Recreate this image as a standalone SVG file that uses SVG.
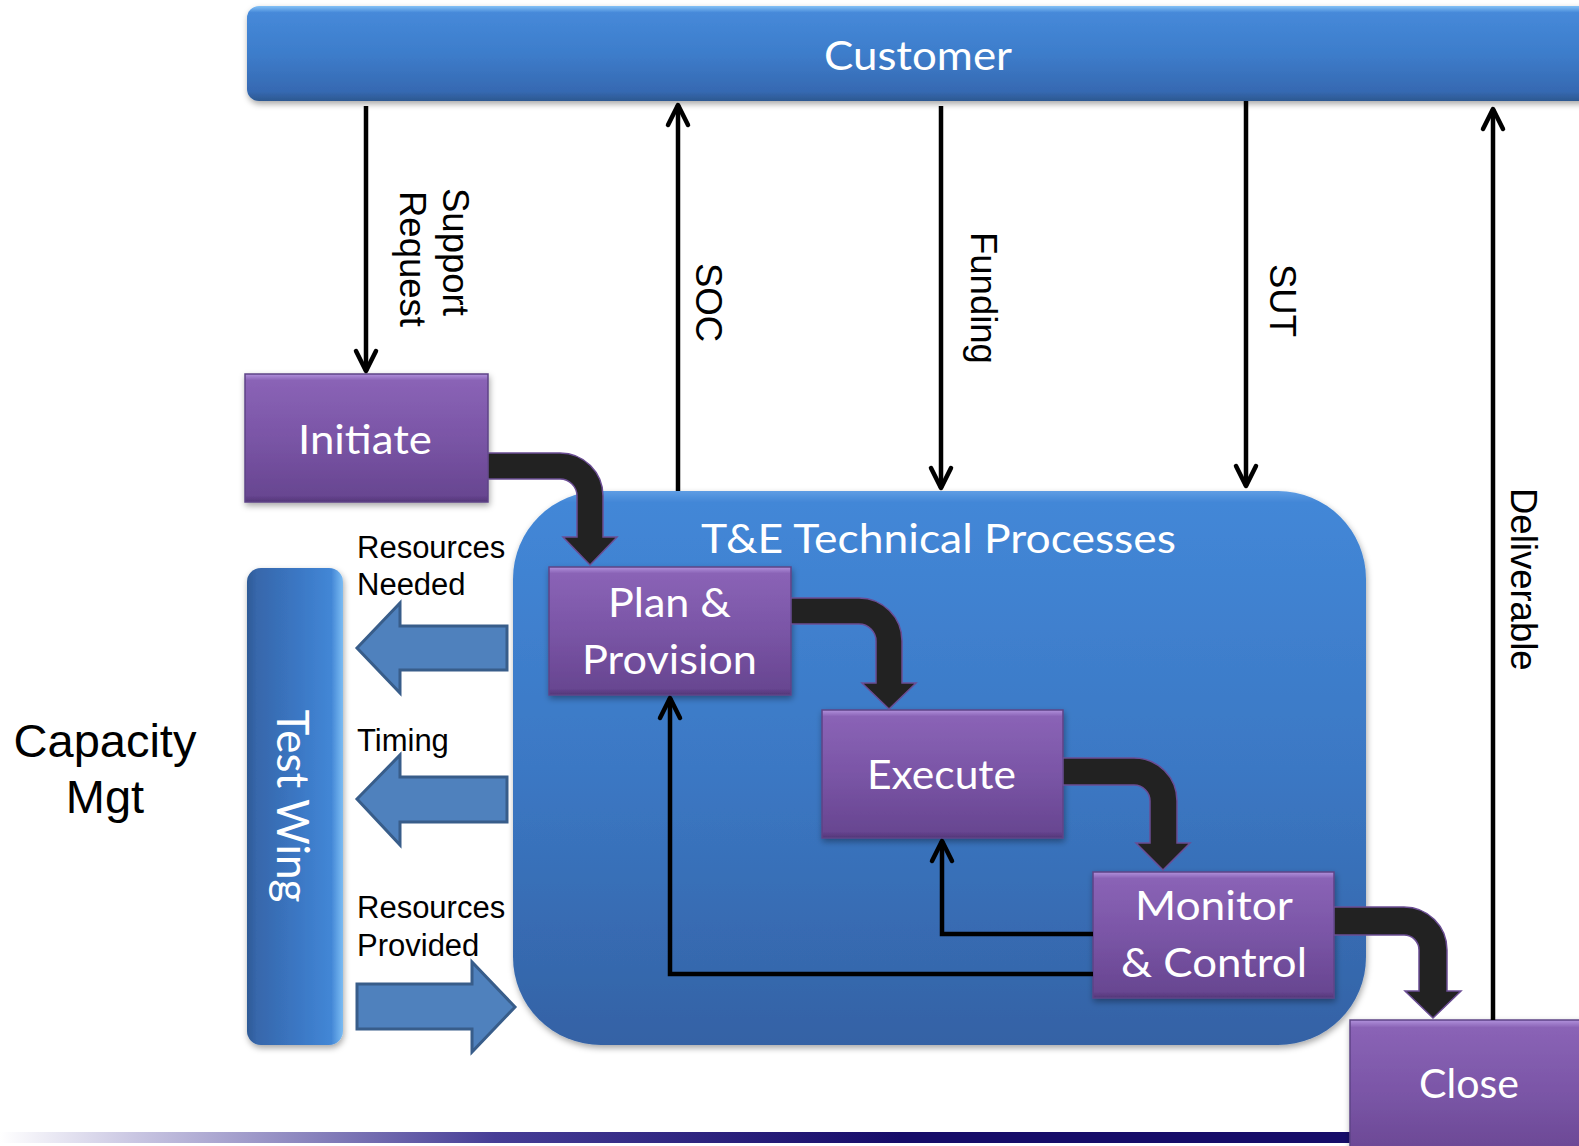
<svg xmlns="http://www.w3.org/2000/svg" width="1579" height="1146" viewBox="0 0 1579 1146">
<defs>
<style>
.cal{font-family:Lato,"Open Sans","DejaVu Sans",sans-serif;fill:#fff;font-size:41px}
.ar{font-family:"Liberation Sans",Arial,sans-serif;fill:#000}
.lbl{font-size:31px}
.vl{font-size:36.5px}
.node{fill:url(#gNode);stroke:#5e4387;stroke-width:1.5;filter:url(#sh)}
.thin{fill:none;stroke:#000;stroke-width:4.5;marker-end:url(#chev)}
.bent{fill:#222;stroke:#6b4d94;stroke-width:1.5}
.blk{fill:#4f81bd;stroke:#385d8a;stroke-width:3}
</style>
<filter id="sh" x="-10%" y="-10%" width="125%" height="135%">
<feDropShadow dx="1" dy="3" stdDeviation="3" flood-color="#000" flood-opacity="0.35"/>
</filter>
<linearGradient id="gBar" x1="0" y1="0" x2="0" y2="1">
<stop offset="0" stop-color="#84c1f6"/>
<stop offset="0.07" stop-color="#4689d9"/>
<stop offset="0.5" stop-color="#3d7dcb"/>
<stop offset="0.9" stop-color="#3669b2"/>
<stop offset="1" stop-color="#2c5890"/>
</linearGradient>
<linearGradient id="gWing" x1="0" y1="0" x2="1" y2="0">
<stop offset="0" stop-color="#2e5a96"/>
<stop offset="0.1" stop-color="#3767ab"/>
<stop offset="0.55" stop-color="#3b78c5"/>
<stop offset="0.88" stop-color="#4387d6"/>
<stop offset="1" stop-color="#7cbcf3"/>
</linearGradient>
<linearGradient id="gTE" x1="0" y1="0" x2="0" y2="1">
<stop offset="0" stop-color="#5e9de4"/>
<stop offset="0.02" stop-color="#4387d7"/>
<stop offset="0.5" stop-color="#3b78c4"/>
<stop offset="1" stop-color="#3462a5"/>
</linearGradient>
<linearGradient id="gNode" x1="0" y1="0" x2="0" y2="1">
<stop offset="0" stop-color="#b192dc"/>
<stop offset="0.05" stop-color="#8a63b6"/>
<stop offset="0.5" stop-color="#7a55a6"/>
<stop offset="0.95" stop-color="#684691"/>
<stop offset="1" stop-color="#523678"/>
</linearGradient>
<linearGradient id="gBand" gradientUnits="userSpaceOnUse" x1="0" y1="0" x2="900" y2="0">
<stop offset="0" stop-color="#ffffff"/>
<stop offset="0.15" stop-color="#c9c6e2"/>
<stop offset="0.55" stop-color="#463d96"/>
<stop offset="1" stop-color="#160c69"/>
</linearGradient>
<marker id="chev" viewBox="-24 -14 28 28" refX="0" refY="0" markerWidth="28" markerHeight="28" markerUnits="userSpaceOnUse" orient="auto">
<path d="M -20,-10 L 0,0 L -20,10" fill="none" stroke="#000" stroke-width="4.5" stroke-linecap="round" stroke-linejoin="round"/>
</marker>
</defs>

<rect x="0" y="0" width="1579" height="1146" fill="#fff"/>

<rect id="band" x="0" y="1132" width="1579" height="11" fill="url(#gBand)"/>

<g id="customer">
<rect x="247" y="6" width="1400" height="95" rx="12" fill="url(#gBar)" filter="url(#sh)"/>
<text class="cal" x="918" y="70" text-anchor="middle" textLength="188" lengthAdjust="spacingAndGlyphs">Customer</text>
</g>

<g id="test-wing">
<rect x="247" y="568" width="96" height="477" rx="14" fill="url(#gWing)" filter="url(#sh)"/>
<text class="cal" font-size="44" transform="translate(277,806) rotate(90)" x="0" y="0" text-anchor="middle" style="font-size:44px" textLength="193" lengthAdjust="spacingAndGlyphs">Test Wing</text>
</g>

<g id="capacity-mgt">
<text class="ar" x="105" y="757" text-anchor="middle" font-size="47">Capacity</text>
<text class="ar" x="105" y="813" text-anchor="middle" font-size="47">Mgt</text>
</g>

<g id="te-processes">
<rect x="513" y="491" width="853" height="554" rx="88" fill="url(#gTE)" filter="url(#sh)"/>
<text class="cal" x="938.5" y="553" text-anchor="middle" textLength="475" lengthAdjust="spacingAndGlyphs">T&amp;E Technical Processes</text>
</g>

<g id="initiate">
<rect class="node" x="245" y="374" width="243" height="128"/>
<text class="cal" x="365" y="454" text-anchor="middle" textLength="134" lengthAdjust="spacingAndGlyphs">Initiate</text>
</g>

<g id="plan-provision">
<rect class="node" x="549" y="567" width="242" height="128"/>
<text class="cal" x="669.5" y="617" text-anchor="middle" textLength="123" lengthAdjust="spacingAndGlyphs">Plan &amp;</text>
<text class="cal" x="669.5" y="674" text-anchor="middle" textLength="175" lengthAdjust="spacingAndGlyphs">Provision</text>
</g>

<g id="execute">
<rect class="node" x="822" y="710" width="241" height="128"/>
<text class="cal" x="941.5" y="789" text-anchor="middle" textLength="149" lengthAdjust="spacingAndGlyphs">Execute</text>
</g>

<g id="monitor-control">
<rect class="node" x="1093" y="872" width="241" height="126"/>
<text class="cal" x="1214" y="920" text-anchor="middle" textLength="158" lengthAdjust="spacingAndGlyphs">Monitor</text>
<text class="cal" x="1214" y="977" text-anchor="middle" textLength="186" lengthAdjust="spacingAndGlyphs">&amp; Control</text>
</g>

<g id="close">
<rect class="node" x="1350" y="1020" width="260" height="150"/>
<text class="cal" x="1469" y="1098" text-anchor="middle" textLength="100" lengthAdjust="spacingAndGlyphs">Close</text>
</g>

<g id="connectors">
<line class="thin" x1="366" y1="106" x2="366" y2="371"/>
<line class="thin" x1="678" y1="491" x2="678" y2="105"/>
<line class="thin" x1="941" y1="106" x2="941" y2="488"/>
<line class="thin" x1="1246" y1="101" x2="1246" y2="486"/>
<line class="thin" x1="1493" y1="1020" x2="1493" y2="109"/>
<polyline class="thin" points="1093,934 942,934 942,841"/>
<polyline class="thin" points="1093,974 670,974 670,698"/>

<path class="bent" d="M 488,453 L 560,453 A 43 43 0 0 1 603,496 L 603,537 L 617,537 L 590,565 L 563,537 L 577,537 L 577,496 A 17 17 0 0 0 560,479 L 488,479 Z"/>
<path class="bent" d="M 791,598 L 859,598 A 43 43 0 0 1 902,641 L 902,683 L 916,683 L 889,709 L 862,683 L 876,683 L 876,641 A 17 17 0 0 0 859,624 L 791,624 Z"/>
<path class="bent" d="M 1063,758 L 1134,758 A 43 43 0 0 1 1177,801 L 1177,843 L 1190,843 L 1163,870 L 1136,843 L 1150,843 L 1150,801 A 16 16 0 0 0 1134,785 L 1063,785 Z"/>
<path class="bent" d="M 1334,907 L 1404,907 A 43 43 0 0 1 1447,950 L 1447,991 L 1461,991 L 1433,1018 L 1405,991 L 1419,991 L 1419,950 A 15 15 0 0 0 1404,935 L 1334,935 Z"/>

<polygon class="blk" points="357,648 400,603 400,626 507,626 507,670 400,670 400,693"/>
<polygon class="blk" points="357,799 400,755 400,777 507,777 507,822 400,822 400,845"/>
<polygon class="blk" points="357,984 472,984 472,962 515,1007 472,1052 472,1029 357,1029"/>

<text class="ar vl" transform="translate(443,188) rotate(90)">Support</text>
<text class="ar vl" transform="translate(400,191) rotate(90)">Request</text>
<text class="ar vl" transform="translate(696,263) rotate(90)">SOC</text>
<text class="ar vl" transform="translate(971,232) rotate(90)">Funding</text>
<text class="ar vl" transform="translate(1270,264) rotate(90)">SUT</text>
<text class="ar vl" transform="translate(1511,488) rotate(90)">Deliverable</text>

<text class="ar lbl" x="357" y="558">Resources</text>
<text class="ar lbl" x="357" y="595">Needed</text>
<text class="ar lbl" x="357" y="751">Timing</text>
<text class="ar lbl" x="357" y="918">Resources</text>
<text class="ar lbl" x="357" y="956">Provided</text>
</g>
</svg>
